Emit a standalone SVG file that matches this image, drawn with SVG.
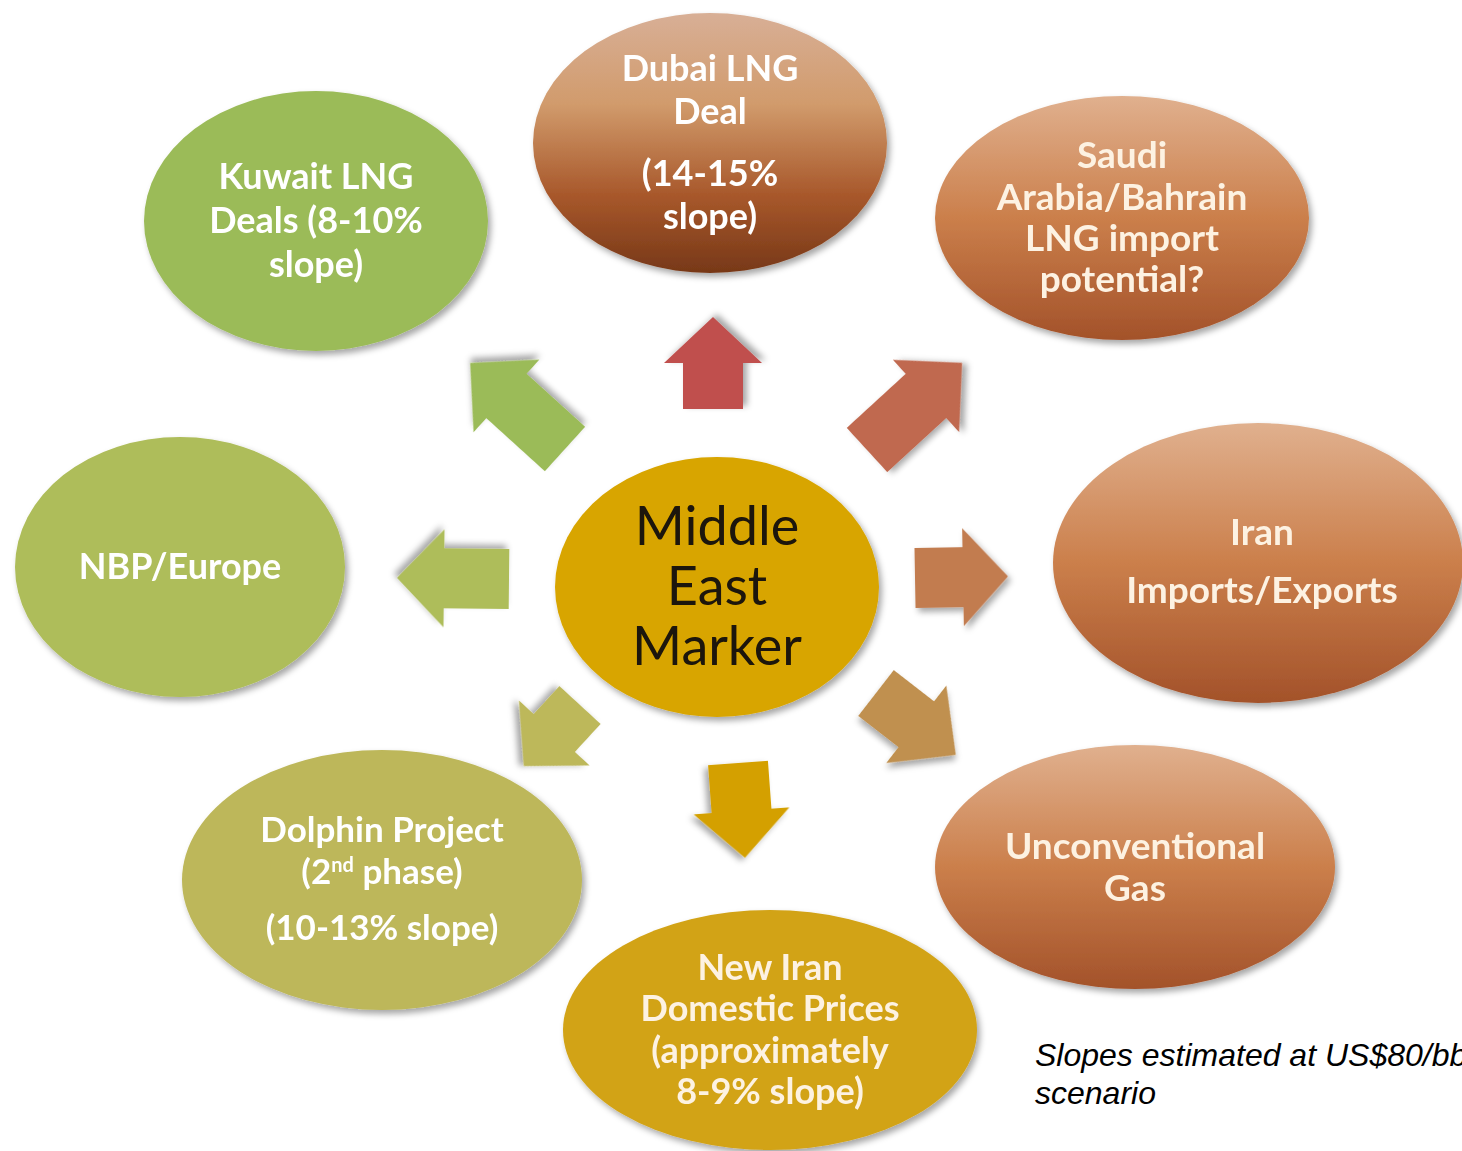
<svg xmlns="http://www.w3.org/2000/svg" width="1462" height="1151" viewBox="0 0 1462 1151">
<defs>
<filter id="sh" x="-20%" y="-20%" width="140%" height="140%">
<feDropShadow dx="3" dy="4" stdDeviation="3" flood-color="#000" flood-opacity="0.35"/>
</filter>
<linearGradient id="gDubai" x1="0" y1="0" x2="0" y2="1">
<stop offset="0" stop-color="#D8AF96"/>
<stop offset="0.35" stop-color="#D19B6C"/>
<stop offset="0.7" stop-color="#A8582B"/>
<stop offset="1" stop-color="#773818"/>
</linearGradient>
<linearGradient id="gBrown" x1="0" y1="0" x2="0" y2="1">
<stop offset="0" stop-color="#E0B08E"/>
<stop offset="0.5" stop-color="#CB7F4B"/>
<stop offset="1" stop-color="#A3522A"/>
</linearGradient>
<style>
.w{font-family:Lato,"Open Sans","Liberation Sans",sans-serif;font-weight:700;font-size:36px;fill:#FFFFFF;text-anchor:middle}
.c{fill:#FDF2E2;font-size:37px}
.n{font-size:36px}
.d{font-size:35px}
.m{font-family:Lato,"Open Sans","Liberation Sans",sans-serif;font-weight:400;font-size:54px;fill:#1A1208;text-anchor:middle}
.note{font-family:"Liberation Sans",Arial,sans-serif;font-style:italic;font-size:32px;fill:#000}
.node{filter:url(#sh)}
.arr{filter:url(#sh)}
</style>
</defs>
<rect width="1462" height="1151" fill="#FFFFFF"/>

<g id="connectors">
<path class="arr" fill="#C0504D" transform="translate(713,409) rotate(-90)" d="M0,-30 L46,-30 L46,-49 L92,0 L46,49 L46,30 L0,30Z"/>
<path class="arr" fill="#9BBB59" transform="translate(565,449) rotate(-137.8)" d="M0,-30 L79,-30 L79,-49 L128,0 L79,49 L79,30 L0,30Z"/>
<path class="arr" fill="#C0694F" transform="translate(867,450) rotate(-42.5)" d="M0,-30 L80,-30 L80,-49 L129,0 L80,49 L80,30 L0,30Z"/>
<path class="arr" fill="#AEBD5A" transform="translate(509,579) rotate(180.6)" d="M0,-30 L65,-30 L65,-49 L112,0 L65,49 L65,30 L0,30Z"/>
<path class="arr" fill="#C27C50" transform="translate(915,578) rotate(-1)" d="M0,-30 L48,-30 L48,-49 L93,0 L48,49 L48,30 L0,30Z"/>
<path class="arr" fill="#D4A000" transform="translate(738,763) rotate(85.8)" d="M0,-30 L48,-30 L48,-48 L95,0 L48,48 L48,30 L0,30Z"/>
<path class="arr" fill="#C0904F" transform="translate(876,693) rotate(37.8)" d="M0,-29 L51,-29 L51,-49 L101,0 L51,49 L51,29 L0,29Z"/>
<path class="arr" fill="#BDB85A" transform="translate(580,705) rotate(132.6)" d="M0,-28 L38,-28 L38,-48 L83,0 L38,48 L38,28 L0,28Z"/>
</g>

<g id="kuwait" class="node">
<ellipse cx="316" cy="221" rx="172" ry="130" fill="#9BBB59"/>
<text class="w" x="316" y="189">Kuwait LNG</text>
<text class="w" x="316" y="233">Deals (8-10%</text>
<text class="w" x="316" y="277">slope)</text>
</g>

<g id="dubai" class="node">
<ellipse cx="710" cy="143" rx="177" ry="130" fill="url(#gDubai)"/>
<text class="w" x="710" y="81">Dubai LNG</text>
<text class="w" x="710" y="124">Deal</text>
<text class="w" x="710" y="186">(14-15%</text>
<text class="w" x="710" y="229">slope)</text>
</g>

<g id="saudi" class="node">
<ellipse cx="1122" cy="218" rx="187" ry="122" fill="url(#gBrown)"/>
<text class="w c" x="1122" y="168">Saudi</text>
<text class="w c" x="1122" y="210">Arabia/Bahrain</text>
<text class="w c" x="1122" y="251">LNG import</text>
<text class="w c" x="1122" y="292">potential?</text>
</g>

<g id="nbp" class="node">
<ellipse cx="180" cy="567" rx="165" ry="130" fill="#AEBD5A"/>
<text class="w" x="180" y="579">NBP/Europe</text>
</g>

<g id="marker" class="node">
<ellipse cx="717" cy="587" rx="162" ry="130" fill="#D8A504"/>
<text class="m" x="717" y="545">Middle</text>
<text class="m" x="717" y="605">East</text>
<text class="m" x="717" y="665">Marker</text>
</g>

<g id="iran" class="node">
<ellipse cx="1258" cy="563" rx="205" ry="140" fill="url(#gBrown)"/>
<text class="w c" x="1262" y="545">Iran</text>
<text class="w c" x="1262" y="603">Imports/Exports</text>
</g>

<g id="dolphin" class="node">
<ellipse cx="382" cy="880" rx="200" ry="130" fill="#BDB75A"/>
<text class="w d" x="382" y="842">Dolphin Project</text>
<text class="w d" x="382" y="884">(2<tspan font-size="20" dy="-12">nd</tspan><tspan dy="12"> phase)</tspan></text>
<text class="w d" x="382" y="940">(10-13% slope)</text>
</g>

<g id="newiran" class="node">
<ellipse cx="770" cy="1030" rx="207" ry="120" fill="#D2A319"/>
<text class="w c n" x="770" y="980">New Iran</text>
<text class="w c n" x="770" y="1021">Domestic Prices</text>
<text class="w c n" x="770" y="1063">(approximately</text>
<text class="w c n" x="770" y="1104">8-9% slope)</text>
</g>

<g id="unconventional" class="node">
<ellipse cx="1135" cy="867" rx="200" ry="122" fill="url(#gBrown)"/>
<text class="w c" x="1135" y="859">Unconventional</text>
<text class="w c" x="1135" y="901">Gas</text>
</g>

<g id="note">
<text class="note" x="1035" y="1066">Slopes estimated at US$80/bbl</text>
<text class="note" x="1035" y="1104">scenario</text>
</g>
</svg>
